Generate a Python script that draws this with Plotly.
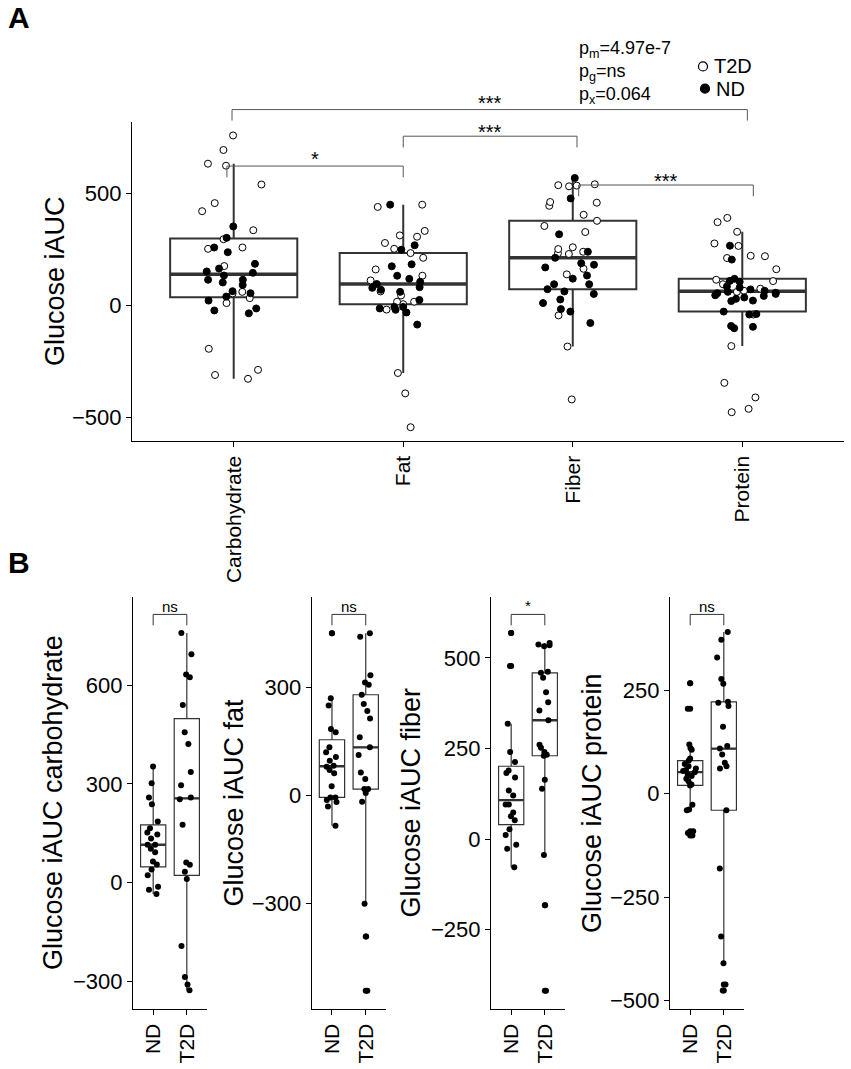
import numpy as np
import plotly.graph_objects as go

W, H = 851, 1069

# --- data (glucose iAUC per participant) ---
nutrients = ["Carbohydrate", "Fat", "Fiber", "Protein"]
groups = ["ND", "T2D"]

carb_nd = [353, 302, 259, 238, 186, 165, 152, 146, 134, 115, 115, 103, 92, 64, 55, 40, 22, -13, -22, -35]
carb_t2d = [759, 694, 633, 624, 540, 457, 421, 336, 296, 259, 253, 176, 61, 54, 33, 11, -193, -287, -310, -327]

fat_nd = [450, 269, 249, 184, 175, 133, 119, 106, 96, 82, 79, 70, 61, 25, -6, -6, -13, -19, -31, -85]
fat_t2d = [450, 440, 333, 313, 307, 279, 253, 234, 213, 161, 133, 112, 63, 45, 17, 17, 6, -18, -301, -392, -543]

fiber_nd = [569, 478, 318, 240, 213, 189, 182, 170, 134, 120, 95, 95, 73, 63, 52, 27, 11, -16, -27, -78]
fiber_t2d = [541, 537, 535, 532, 462, 459, 445, 405, 378, 355, 328, 260, 252, 240, 233, 230, 164, 139, -44, -183, -419]

protein_nd = [267, 205, 119, 110, 106, 85, 80, 72, 66, 61, 57, 55, 52, 46, 43, 36, 30, 22, 20, -27, -38, -40, -91, -95, -101]
protein_t2d = [391, 372, 329, 277, 266, 222, 220, 212, 162, 115, 109, 95, 75, 66, 61, -40, -181, -345, -410, -461, -476]

nd_vals = [carb_nd, fat_nd, fiber_nd, protein_nd]
t2d_vals = [carb_t2d, fat_t2d, fiber_t2d, protein_t2d]

# significance labels
sig_a = [("Carbohydrate", "Protein", "***"), ("Fat", "Fiber", "***"),
         ("Carbohydrate", "Fat", "*"), ("Fiber", "Protein", "***")]
sig_b = ["ns", "ns", "*", "ns"]
p_text = ["p<sub>m</sub>=4.97e-7", "p<sub>g</sub>=ns", "p<sub>x</sub>=0.064"]

a_title = "Glucose iAUC"
b_titles = ["Glucose iAUC carbohydrate", "Glucose iAUC fat",
            "Glucose iAUC fiber", "Glucose iAUC protein"]
b_ticks = [[-300, 0, 300, 600], [-300, 0, 300], [-250, 0, 250, 500], [-500, -250, 0, 250]]

# --- layout constants (pixels of the 851x1069 page) ---
FONT = "Liberation Sans, Arial, Helvetica, sans-serif"
BOXLINE = "#333333"
b_xpix = [(133, 207), (311.7, 386), (491, 565), (670, 744)]
b_ranges = [(-385, 869), (-594, 551), (-470, 669), (-521, 476)]
b_title_x = [53, 233.5, 410.5, 592]
a_bracket_pix = [(110, 121, 98), (136.7, 148, 127), (166.7, 178, 155), (185.7, 197, 176.7)]
a_bracket_nudge = [(-0.01, 0.03), (0.0, 0.025), (-0.04, 0.0), (0.035, 0.065)]


def py(p):
    return 1 - p / H


def pxw(p):
    return p / W


def ytitle(text, x_pix, y_pix):
    return dict(text=text, x=pxw(x_pix), y=py(y_pix), xref="paper", yref="paper",
                textangle=-90, showarrow=False, xanchor="center", yanchor="middle",
                font=dict(size=27, color="black"))


axis_style = dict(showline=True, linecolor="black", linewidth=1.2, ticks="outside",
                  ticklen=5, tickwidth=1.2, tickcolor="black", showgrid=False,
                  zeroline=False, tickfont=dict(size=22, color="black"))

fig = go.Figure()
shapes = []
annotations = []

# ---------------- panel A ----------------
xa_all, ya_all = [], []
for name, nd, t2d in zip(nutrients, nd_vals, t2d_vals):
    xa_all += [name] * (len(nd) + len(t2d))
    ya_all += nd + t2d

fig.add_trace(go.Box(
    x=xa_all, y=ya_all, width=0.75, boxpoints="outliers", marker=dict(opacity=0),
    line=dict(color=BOXLINE, width=2), fillcolor="rgba(0,0,0,0)", whiskerwidth=0,
    quartilemethod="inclusive", hoverinfo="skip", xaxis="x", yaxis="y"))

for grp, vals, fill in [("T2D", t2d_vals, "white"), ("ND", nd_vals, "black")]:
    xs, ys = [], []
    for name, v in zip(nutrients, vals):
        xs += [name] * len(v)
        ys += v
    fig.add_trace(go.Box(
        x=xs, y=ys, name=grp, width=0.75, boxpoints="all", jitter=0.55, pointpos=0,
        line=dict(width=0, color="rgba(0,0,0,0)"), fillcolor="rgba(0,0,0,0)",
        whiskerwidth=0, quartilemethod="inclusive",
        marker=dict(size=7, color=fill, line=dict(color="black", width=1)),
        xaxis="x", yaxis="y"))

# thick medians like ggplot
for i, (nd, t2d) in enumerate(zip(nd_vals, t2d_vals)):
    m = float(np.median(nd + t2d))
    shapes.append(dict(type="line", xref="x", yref="y", x0=i - 0.375, x1=i + 0.375,
                       y0=m, y1=m, line=dict(color=BOXLINE, width=3.5), layer="below"))

# significance brackets
for (left, right, lab), (ytop, ybot, ylab), (n0, n1) in zip(sig_a, a_bracket_pix, a_bracket_nudge):
    x0 = nutrients.index(left) + n0
    x1 = nutrients.index(right) + n1
    shapes.append(dict(type="path", xref="x", yref="paper",
                       path=f"M {x0},{py(ybot)} L {x0},{py(ytop)} L {x1},{py(ytop)} L {x1},{py(ybot)}",
                       line=dict(color="#555555", width=1)))
    annotations.append(dict(text=lab, x=(x0 + x1) / 2, xref="x", y=py(ylab + 5), yref="paper",
                            showarrow=False, font=dict(size=20, color="black"),
                            xanchor="center", yanchor="middle"))

for k, t in enumerate(p_text):
    annotations.append(dict(text=t, x=pxw(577), y=py(50 + 23 * k), xref="paper", yref="paper",
                            showarrow=False, xanchor="left", yanchor="middle",
                            font=dict(size=18, color="black")))

# legend (drawn by hand, ggplot-like)
for (grp, fill), (cx, cy) in zip([("T2D", "white"), ("ND", "black")], [(703, 66.7), (705, 89)]):
    shapes.append(dict(type="circle", xref="paper", yref="paper", xsizemode="pixel",
                       ysizemode="pixel", xanchor=pxw(cx), yanchor=py(cy),
                       x0=-4.5, x1=4.5, y0=-4.5, y1=4.5, fillcolor=fill,
                       line=dict(color="black", width=1.2)))
    annotations.append(dict(text=grp, x=pxw(cx + 9), y=py(cy), xref="paper", yref="paper",
                            showarrow=False, xanchor="left", yanchor="middle",
                            font=dict(size=20, color="black")))

annotations.append(dict(text="<b>A</b>", x=pxw(6), y=py(18), xref="paper", yref="paper",
                        showarrow=False, xanchor="left", yanchor="middle",
                        font=dict(size=30, color="black")))
annotations.append(dict(text="<b>B</b>", x=pxw(6), y=py(565), xref="paper", yref="paper",
                        showarrow=False, xanchor="left", yanchor="middle",
                        font=dict(size=30, color="black")))
annotations.append(ytitle(a_title, 55.5, 282.5))

layout_axes = {
    "xaxis": dict(axis_style, domain=[pxw(132), pxw(844)], anchor="y", type="category",
                  categoryorder="array", categoryarray=nutrients, range=[-0.6, 3.6],
                  tickangle=-90, tickfont=dict(size=21, color="black")),
    "yaxis": dict(axis_style, domain=[py(443), py(122)], anchor="x", range=[-606, 821],
                  tickvals=[-500, 0, 500]),
}

# ---------------- panel B ----------------
for k in range(4):
    ax = str(k + 2)
    nd, t2d = nd_vals[k], t2d_vals[k]
    xs = ["ND"] * len(nd) + ["T2D"] * len(t2d)
    ys = nd + t2d
    fig.add_trace(go.Box(
        x=xs, y=ys, width=0.75, boxpoints="outliers", pointpos=0, jitter=0,
        marker=dict(size=6, color="black"), line=dict(color=BOXLINE, width=1.2),
        fillcolor="rgba(0,0,0,0)", whiskerwidth=0, quartilemethod="inclusive",
        xaxis="x" + ax, yaxis="y" + ax))
    fig.add_trace(go.Box(
        x=xs, y=ys, width=0.75, boxpoints="all", pointpos=0, jitter=0.6,
        marker=dict(size=6, color="black"), line=dict(width=0, color="rgba(0,0,0,0)"),
        fillcolor="rgba(0,0,0,0)", whiskerwidth=0, quartilemethod="inclusive",
        xaxis="x" + ax, yaxis="y" + ax))
    for j, v in enumerate([nd, t2d]):
        m = float(np.median(v))
        shapes.append(dict(type="line", xref="x" + ax, yref="y" + ax, x0=j - 0.375, x1=j + 0.375,
                           y0=m, y1=m, line=dict(color=BOXLINE, width=2.4), layer="below"))
    shapes.append(dict(type="path", xref="x" + ax, yref="paper",
                       path=f"M 0,{py(627.7)} L 0,{py(616.7)} L 1,{py(616.7)} L 1,{py(627.7)}",
                       line=dict(color="#333333", width=1)))
    lab = sig_b[k]
    annotations.append(dict(text=lab, x=0.5, xref="x" + ax, y=py(609 if lab == "ns" else 608),
                            yref="paper", showarrow=False, font=dict(size=15, color="black"),
                            xanchor="center", yanchor="middle"))
    annotations.append(ytitle(b_titles[k], b_title_x[k], 806))
    x0, x1 = b_xpix[k]
    layout_axes["xaxis" + ax] = dict(axis_style, domain=[pxw(x0), pxw(x1)], anchor="y" + ax,
                                     type="category", categoryorder="array",
                                     categoryarray=groups, range=[-0.6, 1.6], tickangle=-90,
                                     tickfont=dict(size=21, color="black"))
    layout_axes["yaxis" + ax] = dict(axis_style, domain=[py(1013), py(599)], anchor="x" + ax,
                                     range=list(b_ranges[k]), tickvals=b_ticks[k])

fig.update_layout(
    width=W, height=H, margin=dict(l=0, r=0, t=0, b=0),
    paper_bgcolor="white", plot_bgcolor="white",
    font=dict(family=FONT, color="black"),
    showlegend=False, boxmode="overlay",
    shapes=shapes, annotations=annotations,
    **layout_axes,
)

# drop the browser's default page margin so the figure sits at 0,0
fig.write_html("out.html", config={"displayModeBar": False},
               post_script="document.body.style.margin='0';")
